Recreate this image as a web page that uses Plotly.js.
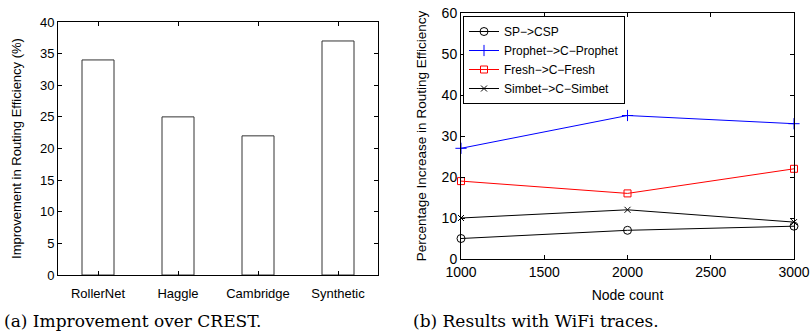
<!DOCTYPE html>
<html><head><meta charset="utf-8">
<script src="https://cdn.plot.ly/plotly-3.0.1.min.js"></script>
<style>html,body{margin:0;padding:0;background:#fff}#c{width:812px;height:336px}</style>
</head><body><div id="c"></div>
<script>
// Panel (a)
const datasets = ['RollerNet', 'Haggle', 'Cambridge', 'Synthetic'];
const improvement = [34, 25, 22, 37];
// Panel (b)
const nodeCounts = [1000, 2000, 3000];
const spCsp = [5, 7, 8];
const prophetCProphet = [27, 35, 33];
const freshCFresh = [19, 16, 22];
const simbetCSimbet = [10, 12, 9];
const seriesNames = ['SP\u2212>CSP', 'Prophet\u2212>C\u2212Prophet', 'Fresh\u2212>C\u2212Fresh', 'Simbet\u2212>C\u2212Simbet'];

const W = 812, H = 336;
const px = (a, b) => [a / W, b / W];
const py = (top, bottom) => [(H - bottom) / H, (H - top) / H];
const sans = 'Liberation Sans';
const serif = 'DejaVu Serif';

const traces = [
  {type: 'bar', x: datasets, y: improvement, xaxis: 'x', yaxis: 'y', width: 0.4,
   marker: {color: '#ffffff', line: {color: '#333333', width: 1}}, showlegend: false},
  {type: 'scatter', mode: 'lines+markers', x: nodeCounts, y: spCsp, name: seriesNames[0], xaxis: 'x2', yaxis: 'y2',
   line: {color: '#000000', width: 1}, marker: {symbol: 'circle-open', size: 8, color: '#000000', line: {width: 1}}, cliponaxis: false},
  {type: 'scatter', mode: 'lines+markers', x: nodeCounts, y: prophetCProphet, name: seriesNames[1], xaxis: 'x2', yaxis: 'y2',
   line: {color: '#0000ff', width: 1}, marker: {symbol: 'cross-thin-open', size: 8, color: '#0000ff', line: {width: 1, color: '#0000ff'}}, cliponaxis: false},
  {type: 'scatter', mode: 'lines+markers', x: nodeCounts, y: freshCFresh, name: seriesNames[2], xaxis: 'x2', yaxis: 'y2',
   line: {color: '#ff0000', width: 1}, marker: {symbol: 'square-open', size: 7, color: '#ff0000', line: {width: 1}}, cliponaxis: false},
  {type: 'scatter', mode: 'lines+markers', x: nodeCounts, y: simbetCSimbet, name: seriesNames[3], xaxis: 'x2', yaxis: 'y2',
   line: {color: '#000000', width: 1}, marker: {symbol: 'x-thin-open', size: 6, color: '#000000', line: {width: 1, color: '#000000'}}, cliponaxis: false}
];

const axCommon = {showline: true, linecolor: '#000', linewidth: 1, mirror: 'ticks', ticks: 'inside', ticklen: 4,
  tickcolor: '#000', showgrid: false, zeroline: false, automargin: false};

const layout = {
  width: W, height: H, margin: {l: 0, r: 0, t: 0, b: 0}, paper_bgcolor: '#fff', plot_bgcolor: '#fff',
  font: {family: sans, color: '#000', size: 13},
  showlegend: true,
  xaxis: Object.assign({}, axCommon, {domain: px(58, 378), range: [-0.5, 3.5], tickfont: {size: 13}, ticklabelstandoff: 6, anchor: 'y'}),
  yaxis: Object.assign({}, axCommon, {domain: py(22, 275), range: [0, 40], dtick: 5, tickfont: {size: 13}, anchor: 'x',
    title: {text: 'Improvement in Routing Efficiency (%)', font: {size: 13}, standoff: 15}}),
  xaxis2: Object.assign({}, axCommon, {domain: px(461, 794), range: [1000, 3000], dtick: 500, tickfont: {size: 14}, anchor: 'y2',
    title: {text: 'Node count', font: {size: 14}, standoff: 11}}),
  yaxis2: Object.assign({}, axCommon, {domain: py(13, 259), range: [0, 60], dtick: 10, tickfont: {size: 14}, anchor: 'x2',
    title: {text: 'Percentage Increase in Routing Efficiency', font: {size: 13.5}, standoff: 11}}),
  legend: {x: 463 / W, y: (H - 16) / H, xanchor: 'left', yanchor: 'top', bgcolor: '#fff', bordercolor: '#000', borderwidth: 1,
    font: {size: 12}, itemwidth: 30, tracegroupgap: 0},
  annotations: [
    {xref: 'paper', yref: 'paper', x: 2 / W, y: (H - 321) / H, xanchor: 'left', yanchor: 'middle', showarrow: false,
     text: '(a) Improvement over CREST.', font: {family: serif, size: 17}},
    {xref: 'paper', yref: 'paper', x: 411 / W, y: (H - 321) / H, xanchor: 'left', yanchor: 'middle', showarrow: false,
     text: '(b) Results with WiFi traces.', font: {family: serif, size: 17}}
  ]
};

Plotly.newPlot('c', traces, layout, {displayModeBar: false, staticPlot: true});
</script></body></html>
